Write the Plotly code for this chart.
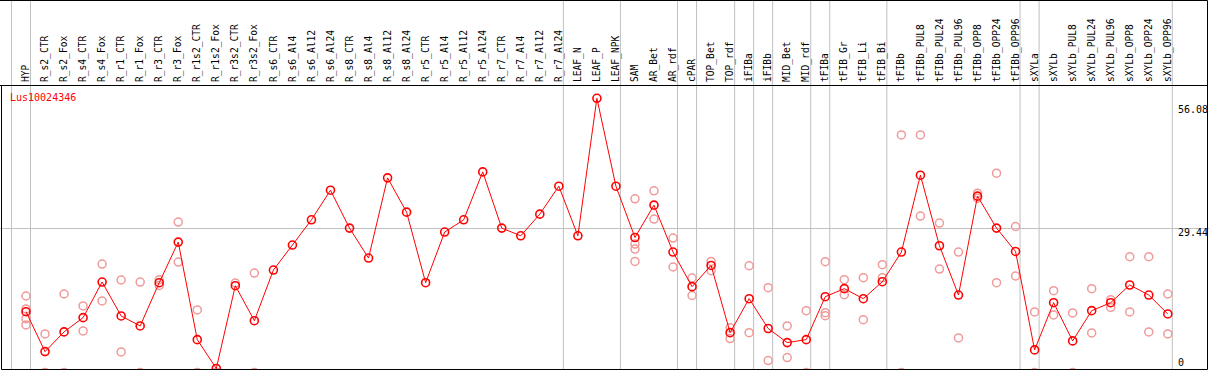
import plotly.graph_objects as go

# ---------------- data ----------------
categories = [
    "HYP", "R_s2_CTR", "R_s2_Fox", "R_s4_CTR", "R_s4_Fox", "R_r1_CTR", "R_r1_Fox",
    "R_r3_CTR", "R_r3_Fox", "R_r1s2_CTR", "R_r1s2_Fox", "R_r3s2_CTR", "R_r3s2_Fox",
    "R_s6_CTR", "R_s6_Al4", "R_s6_Al12", "R_s6_Al24", "R_s8_CTR", "R_s8_Al4",
    "R_s8_Al12", "R_s8_Al24", "R_r5_CTR", "R_r5_Al4", "R_r5_Al12", "R_r5_Al24",
    "R_r7_CTR", "R_r7_Al4", "R_r7_Al12", "R_r7_Al24", "LEAF_N", "LEAF_P", "LEAF_NPK",
    "SAM", "AR_Bet", "AR_rdf", "cPAR", "TOP_Bet", "TOP_rdf", "iFIBa", "iFIBb",
    "MID_Bet", "MID_rdf", "tFIBa", "tFIB_Gr", "tFIB_Li", "tFIB_Bi", "tFIBb",
    "tFIBb_PUL8", "tFIBb_PUL24", "tFIBb_PUL96", "tFIBb_OPP8", "tFIBb_OPP24",
    "tFIBb_OPP96", "sXYLa", "sXYLb", "sXYLb_PUL8", "sXYLb_PUL24", "sXYLb_PUL96",
    "sXYLb_OPP8", "sXYLb_OPP24", "sXYLb_OPP96",
]

mean_values = [
    12.42, 4.25, 8.28, 11.2, 18.49, 11.54, 9.5, 18.35, 26.66, 6.7, 0.8, 17.73, 10.58,
    20.94, 26.05, 31.22, 37.28, 29.52, 23.39, 39.8, 32.79, 18.35, 28.71, 31.22, 41.02,
    29.52, 27.95, 32.38, 38.1, 27.95, 56.08, 38.1,
    27.6, 34.22, 24.62, 17.54, 21.88, 8.13, 15.08, 8.98, 6.09, 6.7, 15.49, 17.13,
    15.08, 18.55, 24.62, 40.35, 25.91, 15.83, 36.06, 29.52, 24.74,
    4.6, 14.26, 6.44, 12.63, 14.26, 17.88, 15.83, 11.95,
]

replicate_values = [
    [15.63, 12.98, 10.99, 9.71],   # HYP
    [7.87, 0.0],                   # R_s2_CTR
    [16.04, 0.0],                  # R_s2_Fox
    [13.59, 8.48],                 # R_s4_CTR
    [22.17, 14.61],                # R_s4_Fox
    [18.9, 4.19],                  # R_r1_CTR
    [18.49, 0.0],                  # R_r1_Fox
    [18.96, 17.8],                 # R_r3_CTR
    [30.75, 22.58],                # R_r3_Fox
    [12.77, 0.0],                  # R_r1s2_CTR
    [0.0, 0.0],                    # R_r1s2_Fox
    [18.29],                       # R_r3s2_CTR
    [20.33, 0.0],                  # R_r3s2_Fox
    [], [], [], [], [], [], [], [], [], [], [], [], [], [], [], [],  # R_s6 .. R_r7
    [], [], [],                    # LEAF_N, LEAF_P, LEAF_NPK
    [35.51, 26.25, 25.23, 22.7],   # SAM
    [37.14, 31.36],                # AR_Bet
    [27.48, 21.56],                # AR_rdf
    [19.31, 15.73],                # cPAR
    [22.7, 20.8],                  # TOP_Bet
    [9.15, 6.91],                  # TOP_rdf
    [21.82, 8.13],                 # iFIBa
    [17.33, 2.41],                 # iFIBb
    [9.5, 3.02],                   # MID_Bet
    [12.63, 0.0],                  # MID_rdf
    [22.64, 12.22, 11.61],         # tFIBa
    [18.96, 15.9],                 # tFIB_Gr
    [19.37, 10.79],                # tFIB_Li
    [22.03, 19.37],                # tFIB_Bi
    [48.58, 0.0],                  # tFIBb
    [48.58, 31.98],                # tFIBb_PUL8
    [30.54, 21.15],                # tFIBb_PUL24
    [24.62, 7.05],                 # tFIBb_PUL96
    [36.67, 35.65],                # tFIBb_OPP8
    [40.76, 18.35],                # tFIBb_OPP24
    [29.85, 19.72],                # tFIBb_OPP96
    [12.36, 0.0],                  # sXYLa
    [16.71, 11.75],                # sXYLb
    [12.16, 0.0],                  # sXYLb_PUL8
    [17.12, 8.07],                 # sXYLb_PUL24
    [14.88, 13.3],                 # sXYLb_PUL96
    [23.66, 12.36],                # sXYLb_OPP8
    [23.66, 8.28],                 # sXYLb_OPP24
    [16.04, 7.87],                 # sXYLb_OPP96
]

y_tick_labels = ["56.08", "29.44", "0"]
grid_value = 29.44
gene_label = "Lus10024346"
# column indices after which a grey separator is drawn
group_ends = [-1, 0, 28, 31, 34, 35, 37, 38, 39, 41, 42, 45, 52, 53, 60]

# ---------------- geometry ----------------
W, H = 1209, 370
COL_PX = 19.03      # pixel width of one column
FIRST_PX = 26.0     # pixel x of first column centre
HEADER_PX = 86.0    # header separator y (px from top)
BOTTOM_PX = 369.0   # bottom of plot (px from top)
TOP_VAL_PX = 98.3   # pixel of max value
GRID_PX = 228.5     # pixel of grid value
max_val = max(mean_values)
y_scale = (GRID_PX - TOP_VAL_PX) / (max_val - grid_value)


def px_to_x(px):
    return (px - FIRST_PX) / COL_PX


def py_to_paper(py):
    return (H - py) / H


y_top = max_val + (TOP_VAL_PX - HEADER_PX) / y_scale
y_bot = max_val - (BOTTOM_PX - TOP_VAL_PX) / y_scale

FONT = "DejaVu Sans Mono"

rep_x, rep_y = [], []
for cat, vals in zip(categories, replicate_values):
    for v in vals:
        rep_x.append(cat)
        rep_y.append(v)

fig = go.Figure()
fig.add_trace(go.Scatter(
    x=rep_x, y=rep_y, mode="markers",
    marker=dict(symbol="circle-open", size=8, color="#f09a9a",
                line=dict(color="#f09a9a", width=1.5)),
    hoverinfo="skip", showlegend=False,
))
fig.add_trace(go.Scatter(
    x=categories, y=mean_values, mode="lines+markers",
    line=dict(color="#ff0000", width=1),
    marker=dict(symbol="circle-open", size=8, color="#ff0000",
                line=dict(color="#ff0000", width=1.6)),
    showlegend=False,
))

shapes = []
for g in group_ends:
    xv = g + 4.5 / COL_PX
    shapes.append(dict(type="line", xref="x", yref="paper", x0=xv, x1=xv,
                       y0=py_to_paper(BOTTOM_PX), y1=1,
                       line=dict(color="#c0c0c0", width=1), layer="below"))
# black frame lines
black = dict(color="#000000", width=1)
shapes += [
    dict(type="line", xref="paper", yref="paper", x0=0, x1=1207.5 / W,
         y0=py_to_paper(0.5), y1=py_to_paper(0.5), line=black),
    dict(type="line", xref="paper", yref="paper", x0=0, x1=1207.5 / W,
         y0=py_to_paper(HEADER_PX - 0.5), y1=py_to_paper(HEADER_PX - 0.5), line=black),
    dict(type="line", xref="paper", yref="paper", x0=1.5 / W, x1=1207.5 / W,
         y0=py_to_paper(BOTTOM_PX + 0.5), y1=py_to_paper(BOTTOM_PX + 0.5), line=black),
    dict(type="line", xref="paper", yref="paper", x0=1.5 / W, x1=1.5 / W,
         y0=py_to_paper(HEADER_PX - 0.5), y1=py_to_paper(BOTTOM_PX + 0.5), line=black),
    dict(type="line", xref="paper", yref="paper", x0=1207.5 / W, x1=1207.5 / W,
         y0=py_to_paper(0.5), y1=py_to_paper(BOTTOM_PX + 0.5), line=black),
]

annotations = [
    dict(text=gene_label, xref="paper", yref="paper", x=9 / W, y=py_to_paper(91),
         xanchor="left", yanchor="top", showarrow=False, borderpad=0,
         font=dict(family=FONT, size=10, color="#ff0000")),
]
label_py = [110, 232.5, 362.5]
for txt, py in zip(y_tick_labels, label_py):
    annotations.append(dict(text=txt, xref="paper", yref="paper", x=1177 / W,
                            y=py_to_paper(py), xanchor="left", yanchor="middle",
                            showarrow=False, borderpad=0,
                            font=dict(family=FONT, size=10, color="#000000")))

fig.update_layout(
    width=W, height=H, autosize=False,
    margin=dict(l=0, r=0, t=0, b=0, pad=0),
    paper_bgcolor="white", plot_bgcolor="white",
    shapes=shapes, annotations=annotations,
    hovermode=False,
    xaxis=dict(
        type="category", categoryorder="array", categoryarray=categories,
        range=[px_to_x(0), px_to_x(W)], side="top", tickangle=-90,
        tickfont=dict(family=FONT, size=9.6, color="#000000"),
        ticks="", showgrid=False, showline=False, zeroline=False,
        ticklabelstandoff=3, fixedrange=True,
    ),
    yaxis=dict(
        domain=[py_to_paper(BOTTOM_PX), py_to_paper(HEADER_PX)],
        range=[y_bot, y_top], tickvals=[grid_value], showticklabels=False,
        showgrid=True, gridcolor="#c0c0c0", gridwidth=1, zeroline=False,
        showline=False, ticks="", fixedrange=True,
    ),
)

fig.write_html(
    "out.html",
    config={"displayModeBar": False, "staticPlot": True},
    post_script="document.body.style.margin='0';document.body.style.overflow='hidden';",
)
